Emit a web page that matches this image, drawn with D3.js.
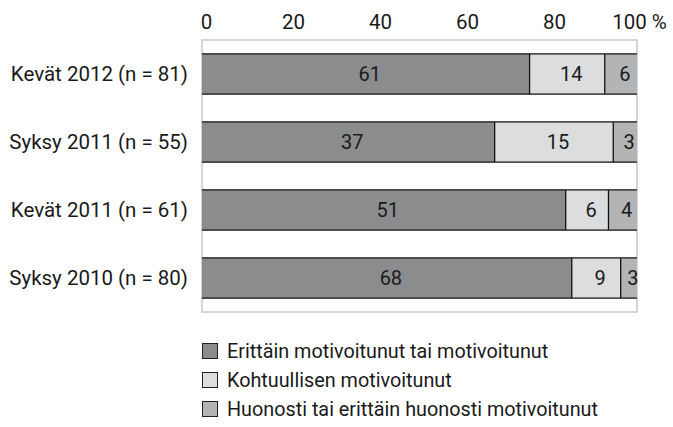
<!DOCTYPE html>
<html>
<head>
<meta charset="utf-8">
<script src="https://cdn.jsdelivr.net/npm/d3@7"></script>
<style>
  html, body { margin: 0; padding: 0; background: #fff; }
  svg { display: block; font-family: Roboto, "Noto Sans", sans-serif; }
</style>
</head>
<body>
<svg id="chart" width="673" height="427"></svg>
<script>
// Survey rounds (top to bottom) and respondent counts per answer group
const categories = ["Kevät 2012 (n = 81)", "Syksy 2011 (n = 55)", "Kevät 2011 (n = 61)", "Syksy 2010 (n = 80)"];
const totals = [81, 55, 61, 80];
const motivated = [61, 37, 51, 68];     // Erittäin motivoitunut tai motivoitunut
const moderate = [14, 15, 6, 9];        // Kohtuullisen motivoitunut
const poor = [6, 3, 4, 3];              // Huonosti tai erittäin huonosti motivoitunut
const seriesNames = [
  "Erittäin motivoitunut tai motivoitunut",
  "Kohtuullisen motivoitunut",
  "Huonosti tai erittäin huonosti motivoitunut"
];
const tickValues = [0, 20, 40, 60, 80, 100];
const colors = ["#8b8c8e", "#dcdddf", "#b2b4b6"];

const svg = d3.select("#chart");
const frame = { left: 202, right: 637, top: 40, bottom: 312 };

const x = d3.scaleLinear().domain([0, 100]).range([frame.left, frame.right]);
const y = d3.scaleBand().domain(categories).range([frame.top, frame.bottom])
  .paddingInner(0.41).paddingOuter(0.205);

// Plot frame
svg.append("rect")
  .attr("x", frame.left).attr("y", frame.top)
  .attr("width", frame.right - frame.left).attr("height", frame.bottom - frame.top)
  .attr("fill", "none").attr("stroke", "#c8c9cb").attr("stroke-width", 1.5);

// Percent axis along the top
const axis = d3.axisTop(x).tickValues(tickValues).tickSize(0)
  .tickFormat(d => d === 100 ? "100 %" : d);
const gAxis = svg.append("g").attr("transform", `translate(0, ${frame.top - 8})`).call(axis);
gAxis.select(".domain").remove();
gAxis.selectAll("text")
  .attr("font-size", 20.5).attr("fill", "#1a1a1a")
  .attr("font-family", "Roboto, sans-serif")
  .attr("dx", d => d === 100 ? 2 : 4);

// Stack counts into shares of each round's total
const rows = categories.map((c, i) => ({
  cat: c,
  vals: [motivated[i], moderate[i], poor[i]],
  total: totals[i]
}));

rows.forEach(r => {
  let cum = 0;
  const segs = r.vals.map((v, k) => {
    const s = { k, v, x0: cum / r.total * 100, x1: (cum + v) / r.total * 100 };
    cum += v;
    return s;
  });
  const g = svg.append("g");
  const y0 = y(r.cat), h = y.bandwidth();
  g.selectAll("rect").data(segs).join("rect")
    .attr("x", d => x(d.x0)).attr("y", y0)
    .attr("width", d => x(d.x1) - x(d.x0)).attr("height", h)
    .attr("fill", d => colors[d.k]);
  // top and bottom outlines of the bar
  [y0, y0 + h].forEach(yy => {
    g.append("line").attr("x1", x(0)).attr("x2", x(100))
      .attr("y1", yy).attr("y2", yy)
      .attr("stroke", "#111").attr("stroke-width", 1.3);
  });
  // dividers between segments
  segs.slice(0, -1).forEach(d => {
    g.append("line").attr("x1", x(d.x1)).attr("x2", x(d.x1))
      .attr("y1", y0).attr("y2", y0 + h)
      .attr("stroke", "#111").attr("stroke-width", 1.3);
  });
  // value labels
  g.selectAll("text").data(segs).join("text")
    .attr("x", d => (x(d.x0) + x(d.x1)) / 2 + 4)
    .attr("y", y0 + h / 2)
    .attr("dy", "0.36em")
    .attr("text-anchor", "middle")
    .attr("font-size", 20).attr("fill", "#1a1a1a")
    .text(d => d.v);
});

// Category labels
svg.append("g").selectAll("text").data(categories).join("text")
  .attr("x", 188).attr("y", d => y(d) + y.bandwidth() / 2)
  .attr("dy", "0.36em").attr("text-anchor", "end")
  .attr("font-size", 20.5).attr("fill", "#1a1a1a")
  .text(d => d);

// Legend
const legend = svg.append("g").selectAll("g").data(seriesNames).join("g")
  .attr("transform", (d, i) => `translate(202, ${351 + i * 29})`);
legend.append("rect")
  .attr("x", 0.5).attr("y", -7.5).attr("width", 15).attr("height", 15)
  .attr("fill", (d, i) => colors[i]).attr("stroke", "#222").attr("stroke-width", 1);
legend.append("text")
  .attr("x", 25).attr("dy", "0.36em")
  .attr("font-size", 19.8).attr("fill", "#1a1a1a")
  .text(d => d);
</script>
</body>
</html>
